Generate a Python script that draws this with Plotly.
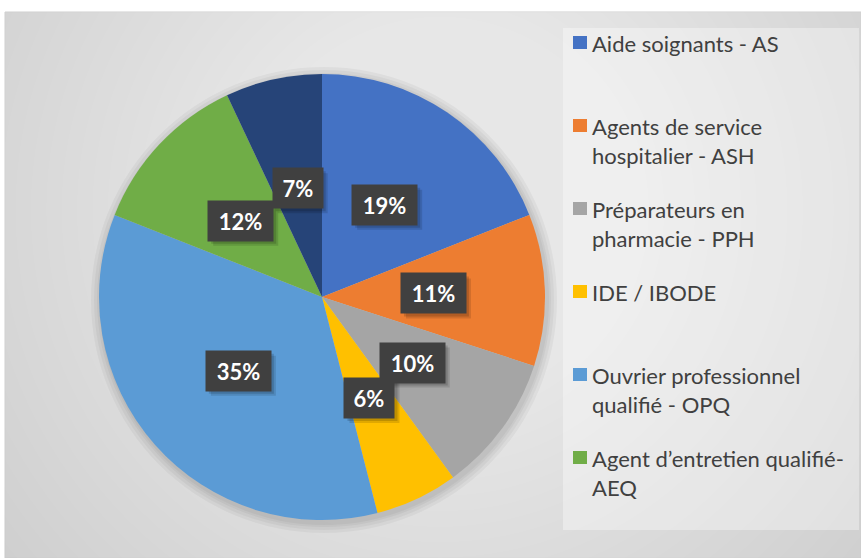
import numpy as np
import plotly.graph_objects as go

# data
labels = ["Aide soignants - AS", "Agents de service<br>hospitalier - ASH",
          "Préparateurs en<br>pharmacie - PPH", "IDE / IBODE",
          "Ouvrier professionnel<br>qualifié - OPQ", "Agent d’entretien qualifié-<br>AEQ",
          "Autres"]
values = [19, 11, 10, 6, 35, 12, 7]
pct_text = ["19%", "11%", "10%", "6%", "35%", "12%", "7%"]
colors = ["#4472C4", "#ED7D31", "#A5A5A5", "#FFC000", "#5B9BD5", "#70AD47", "#264478"]
legend_n = 6  # last slice is not in the legend

W, H = 861, 558
font = "Lato, 'Open Sans', sans-serif"

# pie geometry (pixels)
cx, cy, r = 322, 297, 223

def px(x):
    return x / W

def py(y):
    return 1 - y / H

fig = go.Figure()
fig.add_trace(go.Pie(
    labels=labels, values=values, sort=False, direction="clockwise", rotation=0,
    marker=dict(colors=colors, line=dict(width=0)),
    textinfo="none", hoverinfo="label+percent", showlegend=False,
    domain=dict(x=[px(cx - r), px(cx + r)], y=[py(cy + r), py(cy - r)]),
))

shapes = []
# chart area background (grey) with radial lightening
shapes.append(dict(type="rect", xref="paper", yref="paper", x0=px(5), x1=1, y0=0, y1=py(12),
                   fillcolor="#c4c4c4", line=dict(color="#bdbdbd", width=1), layer="below"))
gx, gy = 440, 210
for rad in np.linspace(640, 40, 40):
    shapes.append(dict(type="circle", xref="paper", yref="paper",
                       x0=px(gx - rad), x1=px(gx + rad), y0=py(gy + rad), y1=py(gy - rad),
                       fillcolor="white", opacity=0.04, line=dict(width=0), layer="below"))
# legend panel
shapes.append(dict(type="rect", xref="paper", yref="paper", x0=px(563), x1=px(859), y0=py(530), y1=py(28),
                   fillcolor="white", opacity=0.35, line=dict(width=0), layer="below"))
# soft pie shadow
for d in [10, 7, 4, 2]:
    shapes.append(dict(type="circle", xref="paper", yref="paper",
                       x0=px(cx - r - d + 2), x1=px(cx + r + d + 2), y0=py(cy + r + d + 3), y1=py(cy - r - d + 3),
                       fillcolor="black", opacity=0.04, line=dict(width=0), layer="below"))

annotations = []
# legend (manual, first six labels only)
for i in range(legend_n):
    top = 33 + 83 * i
    shapes.append(dict(type="rect", xref="paper", yref="paper",
                       x0=px(573), x1=px(587), y0=py(top + 16), y1=py(top + 3),
                       fillcolor=colors[i], line=dict(width=0)))
    annotations.append(dict(xref="paper", yref="paper", x=px(590), y=py(top - 5), xanchor="left", yanchor="top",
                            text=labels[i], showarrow=False, align="left",
                            font=dict(family=font, size=22, color="#404040")))

# data labels in dark boxes, halfway out along each slice's middle angle
cum = np.cumsum([0] + values[:-1])
total = sum(values)
for v, c0, t in zip(values, cum, pct_text):
    ang = 2 * np.pi * (c0 + v / 2) / total
    lx = cx + 0.5 * r * np.sin(ang)
    ly = cy - 0.5 * r * np.cos(ang)
    bw, bh = 20 + 15 * len(t), 40
    for s, op in [(5, 0.12), (3, 0.15)]:
        shapes.append(dict(type="rect", xref="paper", yref="paper",
                           x0=px(lx - bw / 2 + s), x1=px(lx + bw / 2 + s),
                           y0=py(ly + bh / 2 + s), y1=py(ly - bh / 2 + s),
                           fillcolor="black", opacity=op, line=dict(width=0)))
    annotations.append(dict(xref="paper", yref="paper", x=px(lx), y=py(ly), text="<b>" + t + "</b>",
                            xanchor="center", yanchor="middle",
                            showarrow=False, bgcolor="#404040", borderpad=0, width=bw, height=bh,
                            font=dict(family=font, size=22, color="white")))

fig.update_layout(width=W, height=H, margin=dict(l=0, r=0, t=0, b=0),
                  paper_bgcolor="white", plot_bgcolor="white",
                  shapes=shapes, annotations=annotations)
fig.write_html("out.html", config={"displayModeBar": False},
               post_script="document.body.style.margin='0';")
